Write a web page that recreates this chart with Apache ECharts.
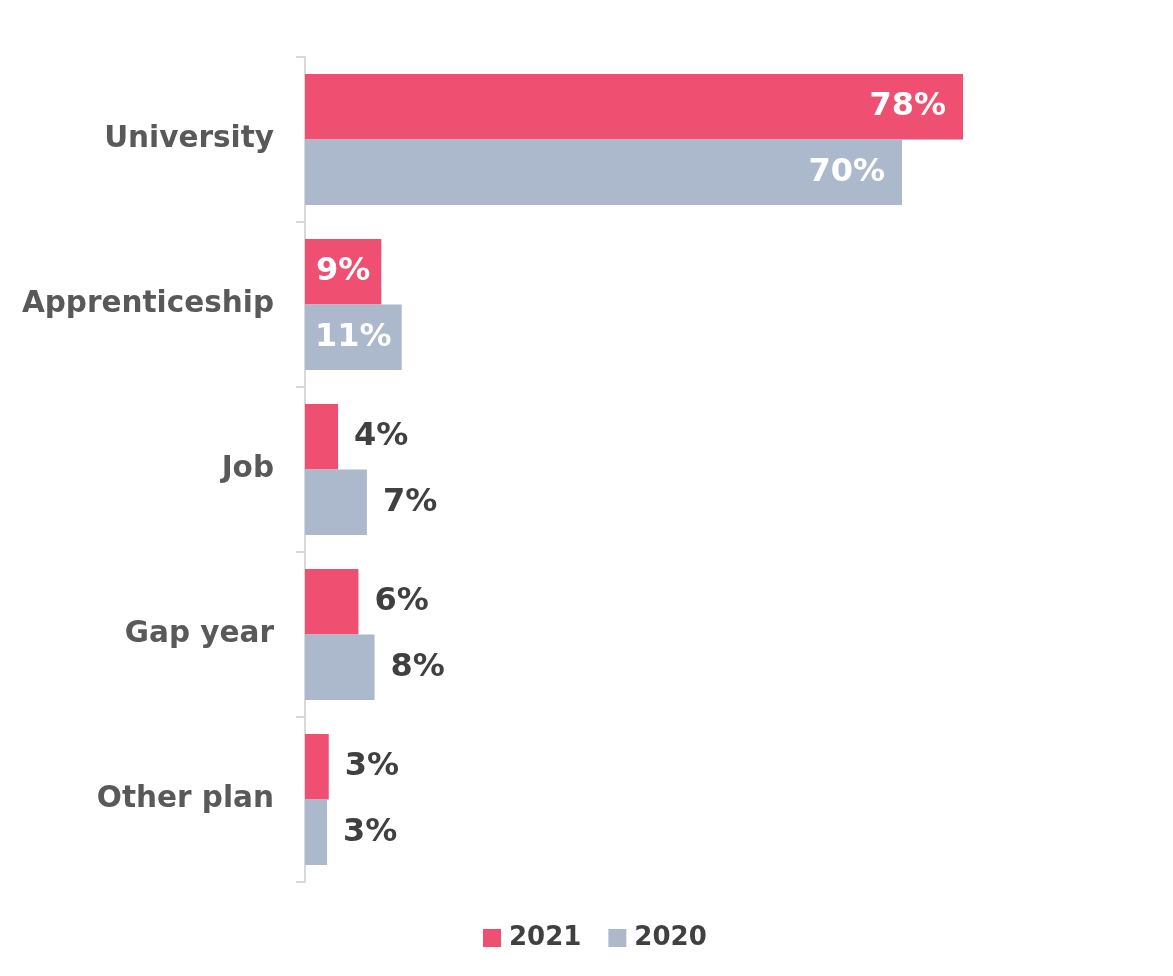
<!DOCTYPE html>
<html>
<head>
<meta charset="utf-8">
<style>
html,body{margin:0;padding:0;background:#fff;}
#chart{width:1173px;height:976px;}
</style>
<script src="https://cdn.jsdelivr.net/npm/echarts@6/dist/echarts.min.js"></script>
</head>
<body>
<div id="chart"></div>
<script>
const categories = ['University', 'Apprenticeship', 'Job', 'Gap year', 'Other plan'];
const seriesNames = ['2021', '2020'];
const values2021 = [77.6, 9.0, 3.9, 6.3, 2.8];
const values2020 = [70.4, 11.4, 7.3, 8.2, 2.6];
const colors = ['#EF4F70', '#ACB8CB'];

const FONT = '"DejaVu Sans", sans-serif';

function labelFor(v) {
  if (v > 30) {
    return { position: 'insideRight', distance: 17, color: '#ffffff' };
  } else if (v > 8.5) {
    return { position: 'inside', color: '#ffffff' };
  }
  return { position: 'right', distance: 16, color: '#404040' };
}
function buildData(vals) {
  return vals.map(v => ({ value: v, label: labelFor(v) }));
}

const chart = echarts.init(document.getElementById('chart'), null, { renderer: 'canvas' });
chart.setOption({
  animation: false,
  backgroundColor: '#ffffff',
  color: colors,
  grid: { left: 305, right: 20, top: 57, bottom: 94, containLabel: false },
  legend: {
    data: seriesNames,
    left: 483,
    top: 925,
    padding: 0,
    icon: 'rect',
    itemWidth: 18,
    itemHeight: 18,
    itemGap: 27,
    textStyle: { fontFamily: FONT, fontWeight: 'bold', fontSize: 26, color: '#404040', padding: [0, 0, 0, 3] }
  },
  xAxis: {
    type: 'value', min: 0, max: 100, show: false,
    splitLine: { show: false }
  },
  yAxis: {
    type: 'category',
    data: categories,
    inverse: true,
    offset: 2,
    axisLine: { show: true, lineStyle: { color: '#d9d9d9', width: 2 } },
    axisTick: { show: true, length: 9, lineStyle: { color: '#d9d9d9', width: 2 } },
    axisLabel: { margin: 29, fontFamily: FONT, fontWeight: 'bold', fontSize: 29.5, color: '#595959' }
  },
  series: [
    {
      name: seriesNames[0], type: 'bar', data: buildData(values2021),
      barGap: '0%', barCategoryGap: '20.6%',
      label: { show: true, fontFamily: FONT, fontWeight: 'bold', fontSize: 32, formatter: p => Math.round(p.value) + '%' }
    },
    {
      name: seriesNames[1], type: 'bar', data: buildData(values2020),
      barGap: '0%', barCategoryGap: '20.6%',
      label: { show: true, fontFamily: FONT, fontWeight: 'bold', fontSize: 32, formatter: p => Math.round(p.value) + '%' }
    }
  ]
});
</script>
</body>
</html>
